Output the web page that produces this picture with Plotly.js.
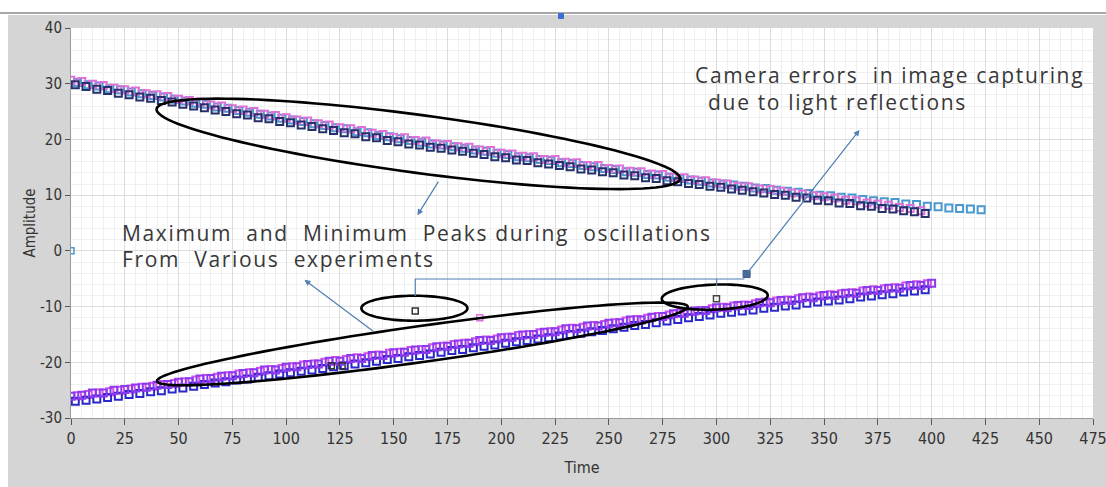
<!DOCTYPE html>
<html>
<head>
<meta charset="utf-8">
<script src="https://cdn.plot.ly/plotly-3.0.1.min.js"></script>
<style>
  html, body { margin:0; padding:0; width:1106px; height:487px; overflow:hidden; background:#ffffff; }
  #panel { position:absolute; left:8px; top:15px; width:1098px; height:472px; background:#d5d5d5; }
  #topline { position:absolute; left:0; top:12px; width:1106px; height:2px; background:#a8a8a8; }
  #dot { position:absolute; left:558px; top:13px; width:6px; height:6px; background:#3b6fd0; border-radius:1px; }
  #chart { position:absolute; left:0; top:0; width:1106px; height:487px; }
  #chart .annotation-text { letter-spacing: 1.65px; }
</style>
</head>
<body>
<div id="panel"></div>
<div id="topline"></div>
<div id="chart"></div>
<div id="dot"></div>
<script>
// ---------- time grids ----------
const timeA = [0,5,10,15,20,25,30,35,40,45,50,55,60,65,70,75,80,85,90,95,100,105,110,115,120,125,130,135,140,145,150,155,160,165,170,175,180,185,190,195,200,205,210,215,220,225,230,235,240,245,250,255,260,265,270,275,280,285,290,295,300,305,310,315,320,325,330,335,340,345,350,355,360,365,370,375,380,385,390,395,400];
const timeB = [2,7,12,17,22,27,32,37,42,47,52,57,62,67,72,77,82,87,92,97,102,107,112,117,122,127,132,137,142,147,152,157,162,167,172,177,182,187,192,197,202,207,212,217,222,227,232,237,242,247,252,257,262,267,272,277,282,287,292,297,302,307,312,317,322,327,332,337,342,347,352,357,362,367,372,377,382,387,392,397];
const timeC = [3,8,13,18,23,28,33,38,43,48,53,58,63,68,73,78,83,88,93,98,103,108,113,118,123,128,133,138,143,148,153,158,163,168,173,178,183,188,193,198,203,208,213,218,223,228,233,238,243,248,253,258,263,268,273,278,283,288,293,298,303,308,313,318,323,328,333,338,343,348,353,358,363,368,373,378,383,388,393,398,403,408,413,418,423];

// ---------- upper band (maximum peaks) ----------
const upperPink = [30.6,30.4,29.9,29.7,29.2,28.9,28.7,28.2,28.0,27.7,27.2,27.0,26.7,26.2,26.0,25.5,25.3,25.0,24.5,24.3,23.9,23.5,23.3,22.8,22.6,22.1,21.9,21.6,21.1,20.9,20.4,20.3,19.8,19.7,19.2,19.1,18.7,18.6,18.1,18.0,17.5,17.4,17.0,16.9,16.4,16.4,15.9,15.8,15.3,15.3,14.8,14.7,14.3,14.2,13.8,13.7,13.2,13.1,12.7,12.6,12.2,12.0,11.6,11.5,11.1,11.0,10.7,10.4,10.2,9.9,9.7,9.5,9.1,9.0,8.6,8.4,8.2,7.8,7.6,7.2];
const upperNavy = [29.8,29.5,29.0,28.8,28.3,28.0,27.6,27.4,27.0,26.7,26.3,26.0,25.7,25.3,25.0,24.6,24.4,23.9,23.7,23.2,23.0,22.6,22.3,21.9,21.6,21.2,21.0,20.5,20.3,19.8,19.6,19.2,19.0,18.6,18.4,18.1,17.9,17.5,17.3,16.9,16.7,16.3,16.2,15.8,15.6,15.3,15.1,14.7,14.5,14.2,14.0,13.6,13.5,13.1,13.0,12.6,12.4,12.1,11.9,11.6,11.4,11.1,10.9,10.6,10.4,10.1,10.0,9.6,9.5,9.1,9.0,8.6,8.5,8.1,8.0,7.6,7.5,7.2,7.0,6.7];
const upperLightBlue = [30.2,29.8,29.6,29.1,28.9,28.5,28.2,27.9,27.6,27.2,26.9,26.5,26.3,25.8,25.6,25.2,24.9,24.5,24.2,23.8,23.5,23.2,22.8,22.5,22.1,21.9,21.4,21.2,20.7,20.5,20.1,19.8,19.5,19.2,19.0,18.7,18.4,18.1,17.9,17.5,17.3,16.9,16.7,16.4,16.2,15.8,15.7,15.3,15.1,14.8,14.6,14.2,14.1,13.7,13.6,13.2,13.0,12.7,12.5,12.2,12.0,11.8,11.6,11.3,11.2,10.9,10.7,10.5,10.3,10.0,9.9,9.6,9.5,9.2,9.0,8.8,8.7,8.4,8.3,8.0,7.9,7.7,7.6,7.5,7.4];

// ---------- lower band (minimum peaks) ----------
const lowerPurple = [-26.1,-25.9,-25.5,-25.5,-25.0,-24.9,-24.6,-24.5,-24.1,-24.0,-23.6,-23.5,-23.0,-22.9,-22.5,-22.4,-22.0,-21.9,-21.4,-21.4,-20.9,-20.8,-20.4,-20.3,-19.8,-19.8,-19.3,-19.3,-18.8,-18.8,-18.3,-18.2,-17.8,-17.7,-17.2,-17.1,-16.7,-16.6,-16.1,-16.1,-15.6,-15.5,-15.1,-15.0,-14.6,-14.5,-14.0,-14.0,-13.5,-13.5,-13.0,-12.9,-12.4,-12.4,-11.9,-11.8,-11.3,-11.2,-10.8,-10.7,-10.2,-10.2,-9.8,-9.8,-9.3,-9.3,-8.9,-8.9,-8.4,-8.4,-8.0,-8.0,-7.6,-7.6,-7.1,-7.1,-6.7,-6.7,-6.2,-6.2,-5.8];
const lowerBlue = [-27.0,-26.8,-26.6,-26.3,-26.1,-25.8,-25.6,-25.3,-25.1,-24.8,-24.6,-24.3,-24.0,-23.7,-23.5,-23.2,-23.0,-22.7,-22.4,-22.1,-21.9,-21.6,-21.4,-21.1,-20.8,-20.6,-20.3,-20.1,-19.8,-19.5,-19.3,-19.0,-18.8,-18.5,-18.2,-17.9,-17.7,-17.4,-17.1,-16.9,-16.6,-16.3,-16.1,-15.8,-15.6,-15.3,-15.0,-14.8,-14.5,-14.3,-14.0,-13.7,-13.4,-13.2,-12.9,-12.6,-12.3,-12.0,-11.8,-11.5,-11.2,-11.0,-10.8,-10.6,-10.3,-10.1,-9.9,-9.7,-9.4,-9.2,-9.0,-8.8,-8.6,-8.3,-8.1,-7.9,-7.7,-7.4,-7.2,-7.0];
const lowerMagenta = [-26.0,-25.8,-25.5,-25.3,-25.0,-24.8,-24.5,-24.3,-24.0,-23.8,-23.5,-23.2,-22.9,-22.7,-22.4,-22.1,-21.9,-21.6,-21.3,-21.1,-20.8,-20.5,-20.3,-20.0,-19.7,-19.5,-19.2,-19.0,-18.7,-18.4,-18.2,-17.9,-17.7,-17.4,-17.1,-16.8,-16.6,-16.3,-16.0,-15.8,-15.5,-15.2,-15.0,-14.7,-14.5,-14.2,-13.9,-13.7,-13.4,-13.2,-12.9,-12.6,-12.3,-12.1,-11.8,-11.5,-11.2,-10.9,-10.7,-10.4,-10.1,-9.9,-9.7,-9.5,-9.2,-9.0,-8.8,-8.6,-8.3,-8.1,-7.9,-7.7,-7.5,-7.2,-7.0,-6.8,-6.6,-6.3,-6.1,-5.9];

// ---------- camera-error outliers ----------
const errTime = [0, 160, 300, 121, 126, 190];
const errAmp = [0, -10.8, -8.6, -20.6, -20.6, -12.0];
const errColor = ['#4a98d0', '#333333', '#444444', '#333333', '#333333', '#e070e0'];

// ---------- tick labels ----------
const xTickVals = [0,25,50,75,100,125,150,175,200,225,250,275,300,325,350,375,400,425,450,475];
const yTickVals = [-30,-20,-10,0,10,20,30,40];
const yTickText = ['-30','-20','-10','0','10','20','30','40'];

// ---------- annotation texts ----------
const noteCamera1 = 'Camera errors\u00a0 in image capturing';
const noteCamera2 = '\u00a0due to light reflections';
const notePeaks1 = 'Maximum\u00a0 and\u00a0 Minimum\u00a0 Peaks during\u00a0 oscillations';
const notePeaks2 = 'From\u00a0 Various\u00a0 experiments';

// ---------- geometry helpers ----------
const X_RANGE = [0, 475], Y_RANGE = [-30, 40];
const M = {l:71, r:13, t:28, b:69};
const W = 1106, H = 487;
const kx = (W - M.l - M.r) / (X_RANGE[1] - X_RANGE[0]);
const ky = (H - M.t - M.b) / (Y_RANGE[1] - Y_RANGE[0]);

function polyPath(cx, cy, rx, ry, angDeg, n) {
  const a = angDeg * Math.PI / 180;
  let d = '';
  for (let i = 0; i < n; i++) {
    const th = 2 * Math.PI * i / n;
    const ex = rx * Math.cos(th), ey = ry * Math.sin(th);
    const px = ex * Math.cos(a) - ey * Math.sin(a);
    const py = ex * Math.sin(a) + ey * Math.cos(a);
    const xv = cx + px / kx, yv = cy - py / ky;
    d += (i === 0 ? 'M' : 'L') + xv.toFixed(3) + ',' + yv.toFixed(3);
  }
  return d + 'Z';
}

function mk(x, y, color, name) {
  return {
    type: 'scatter', mode: 'markers', name: name,
    x: x.slice(0, y.length), y: y,
    marker: {symbol: 'square-open', size: 7, color: color, line: {width: 2, color: color}},
    hoverinfo: 'x+y'
  };
}

const traces = [
  mk(timeC, upperLightBlue, '#4a98d0', 'Max exp 3'),
  mk(timeA, upperPink, '#e070d8', 'Max exp 1'),
  mk(timeB, upperNavy, '#26306a', 'Max exp 2'),
  mk(timeC, lowerMagenta, '#d850e8', 'Min exp 3'),
  mk(timeB, lowerBlue, '#2a28c8', 'Min exp 2'),
  mk(timeA, lowerPurple, '#8a3af0', 'Min exp 1'),
  {
    type: 'scatter', mode: 'markers', name: 'Camera errors',
    x: errTime, y: errAmp,
    marker: {symbol: 'square-open', size: 6, color: errColor, line: {width: 1.5, color: errColor}}
  }
];

const ELL = '#000000';
const CONN = '#4f7fb4';
const shapes = [
  {type:'path', xref:'x', yref:'y', path: polyPath(161.4, 19.2, 264, 29, 7.6, 120), line:{color:ELL, width:2.6}},
  {type:'path', xref:'x', yref:'y', path: polyPath(163.3, -16.7, 268, 18, -8.0, 120), line:{color:ELL, width:2.6}},
  {type:'path', xref:'x', yref:'y', path: polyPath(159.6, -10.3, 53, 12.5, 0, 90), line:{color:ELL, width:2.6}},
  {type:'path', xref:'x', yref:'y', path: polyPath(299.2, -8.3, 53, 12.5, -2, 90), line:{color:ELL, width:2.6}},
  {type:'path', xref:'x', yref:'y', path: 'M160.0,-8.1 L160.0,-5.05 L313.0,-5.05', line:{color:CONN, width:1.2}},
  {type:'path', xref:'x', yref:'y', path: 'M300.1,-5.05 L300.1,-6.3', line:{color:CONN, width:1.2}},
  {type:'path', xref:'x', yref:'y', path: polyPath(314.0, -4.15, 5, 5, 45, 4), line:{color:'#3f5f8f', width:1}, fillcolor:'#4a6a9a'}
];

const textFont = {family: '"Open Sans", "Noto Sans", sans-serif', size: 21, color: '#383838'};
const annotations = [
  {x:289.0, y:31.6, xref:'x', yref:'y', text: noteCamera1, showarrow:false, xanchor:'left', yanchor:'middle', align:'left', font:textFont},
  {x:291.8, y:26.7, xref:'x', yref:'y', text: noteCamera2, showarrow:false, xanchor:'left', yanchor:'middle', align:'left', font:textFont},
  {x:22.7, y:3.2, xref:'x', yref:'y', text: notePeaks1, showarrow:false, xanchor:'left', yanchor:'middle', align:'left', font:textFont},
  {x:22.7, y:-1.5, xref:'x', yref:'y', text: notePeaks2, showarrow:false, xanchor:'left', yanchor:'middle', align:'left', font:textFont},
  {x:366.5, y:21.7, ax:314.0, ay:-4.15, xref:'x', yref:'y', axref:'x', ayref:'y', text:'', showarrow:true, arrowhead:2, arrowsize:1, arrowwidth:1.2, arrowcolor:CONN},
  {x:161.0, y:6.4, ax:171.2, ay:12.7, xref:'x', yref:'y', axref:'x', ayref:'y', text:'', showarrow:true, arrowhead:2, arrowsize:1, arrowwidth:1.2, arrowcolor:CONN},
  {x:108.5, y:-5.2, ax:141.0, ay:-14.6, xref:'x', yref:'y', axref:'x', ayref:'y', text:'', showarrow:true, arrowhead:2, arrowsize:1, arrowwidth:1.2, arrowcolor:CONN}
];

const narrow = '"Liberation Sans Narrow", "DejaVu Sans Condensed", sans-serif';

const layout = {
  width: W, height: H,
  margin: M,
  paper_bgcolor: 'rgba(0,0,0,0)',
  plot_bgcolor: '#ffffff',
  showlegend: false,
  xaxis: {
    range: X_RANGE, tickmode: 'array', tickvals: xTickVals, ticks: 'outside', ticklen: 6, tickcolor: '#555',
    ticklabeloverflow: 'allow', tickfont: {family: narrow, size: 16, color: '#333333'},
    showgrid: true, gridcolor: '#dcdcdc', gridwidth: 1,
    minor: {dtick: 5, tick0: 0, showgrid: true, gridcolor: '#efefef', ticks: ''},
    showline: true, linecolor: '#9a9a9a', zeroline: false,
    title: {text: 'Time', font: {family: narrow, size: 16, color: '#333'}, standoff: 14}
  },
  yaxis: {
    range: Y_RANGE, tickmode: 'array', tickvals: yTickVals, ticktext: yTickText, ticks: 'outside', ticklen: 5, tickcolor: '#555',
    tickfont: {family: narrow, size: 15, color: '#333333'},
    showgrid: true, gridcolor: '#dcdcdc', gridwidth: 1,
    minor: {dtick: 2, tick0: 0, showgrid: true, gridcolor: '#efefef', ticks: ''},
    showline: true, linecolor: '#9a9a9a', zeroline: false,
    title: {text: 'Amplitude', font: {family: narrow, size: 15, color: '#333'}, standoff: 0}
  },
  shapes: shapes,
  annotations: annotations
};

Plotly.newPlot('chart', traces, layout, {displayModeBar: false, staticPlot: true});
</script>
</body>
</html>
